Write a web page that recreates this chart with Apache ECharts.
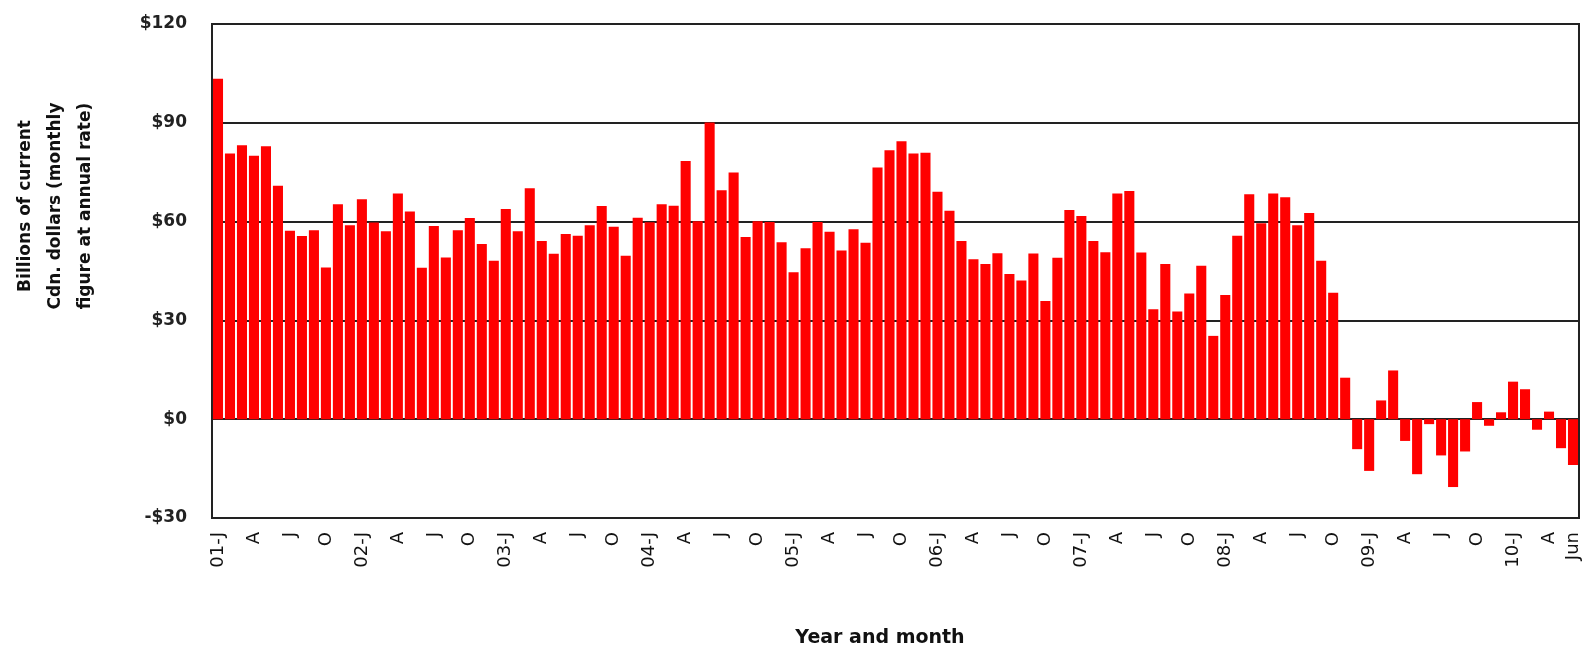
<!DOCTYPE html>
<html>
<head>
<meta charset="utf-8">
<script src="https://cdn.jsdelivr.net/npm/echarts@6/dist/echarts.min.js"></script>
<style>
  html, body { margin: 0; padding: 0; background: #fff; }
  #chart { width: 1582px; height: 651px; }
</style>
</head>
<body>
<div id="chart"></div>
<script>
// monthly values, Jan 2001 .. Jun 2010 (billions, annual rate)
const v2001 = [103.4, 80.7, 83.2, 80.0, 82.9, 70.9, 57.2, 55.6, 57.4, 46.1, 65.3, 58.9];
const v2002 = [66.8, 59.7, 57.1, 68.5, 63.1, 46.0, 58.7, 49.1, 57.4, 61.1, 53.2, 48.1];
const v2003 = [63.8, 57.1, 70.1, 54.1, 50.2, 56.2, 55.7, 58.9, 64.7, 58.4, 49.6, 61.2];
const v2004 = [59.8, 65.3, 64.8, 78.4, 60.1, 90.1, 69.5, 74.9, 55.3, 60.1, 59.9, 53.7];
const v2005 = [44.6, 51.9, 59.9, 56.9, 51.2, 57.7, 53.6, 76.4, 81.7, 84.4, 80.7, 80.9];
const v2006 = [69.1, 63.3, 54.1, 48.6, 47.1, 50.4, 44.1, 42.1, 50.3, 35.9, 49.0, 63.5];
const v2007 = [61.7, 54.1, 50.7, 68.5, 69.3, 50.6, 33.4, 47.1, 32.7, 38.2, 46.6, 25.3];
const v2008 = [37.7, 55.7, 68.3, 59.5, 68.5, 67.4, 58.9, 62.6, 48.1, 38.4, 12.6, -9.1];
const v2009 = [-15.7, 5.7, 14.8, -6.6, -16.7, -1.5, -11.0, -20.6, -9.8, 5.2, -2.0, 2.1];
const v2010 = [11.4, 9.1, -3.2, 2.3, -8.8, -13.9];

const years = ['01', '02', '03', '04', '05', '06', '07', '08', '09', '10'];
const monthLetters = ['J', 'F', 'M', 'A', 'M', 'J', 'J', 'A', 'S', 'O', 'N', 'D'];
const yTicks = [-30, 0, 30, 60, 90, 120];

const values = [].concat(v2001, v2002, v2003, v2004, v2005, v2006, v2007, v2008, v2009, v2010);

// category labels: "01-J" for January, month letter otherwise, last one "Jun"
let categories = [];
years.forEach(function (yy) {
    monthLetters.forEach(function (m, i) {
        if (categories.length < values.length) {
            categories.push(i === 0 ? yy + '-J' : m);
        }
    });
});
categories[categories.length - 1] = 'Jun';
const lastIdx = categories.length - 1;

const chart = echarts.init(document.getElementById('chart'));

let option = {
    animation: false,
    backgroundColor: '#fff',
    grid: {
        left: 212, right: 3, top: 24, bottom: 133,
        show: true, borderColor: '#222', borderWidth: 2, backgroundColor: 'transparent'
    },
    xAxis: {
        type: 'category',
        data: categories,
        axisLine: { show: false },
        axisTick: { show: false },
        axisLabel: {
            rotate: 90,
            margin: 14,
            fontFamily: 'DejaVu Sans',
            fontSize: 18,
            color: '#111',
            interval: function (i) { return i % 3 === 0 || i === lastIdx; }
        }
    },
    yAxis: {
        type: 'value',
        min: yTicks[0],
        max: yTicks[yTicks.length - 1],
        interval: 30,
        axisLine: { show: false },
        axisTick: { show: false },
        splitLine: { lineStyle: { color: '#222', width: 2 } },
        axisLabel: {
            margin: 25,
            fontFamily: 'DejaVu Sans',
            fontWeight: 'bold',
            fontSize: 17,
            color: '#222',
            formatter: function (v) { return v < 0 ? '-$' + Math.abs(v) : '$' + v; }
        }
    },
    series: [{
        type: 'bar',
        data: values,
        barCategoryGap: '16%',
        itemStyle: { color: '#ff0000' }
    }],
    graphic: [
        {
            type: 'text',
            x: 56, y: 206,
            rotation: Math.PI / 2,
            style: {
                text: 'Billions of current\nCdn. dollars (monthly\nfigure at annual rate)',
                font: 'bold 17px "DejaVu Sans"',
                fill: '#111',
                align: 'center',
                verticalAlign: 'middle',
                lineHeight: 30
            }
        },
        {
            type: 'text',
            x: 880, y: 638,
            style: {
                text: 'Year and month',
                font: 'bold 19px "DejaVu Sans"',
                fill: '#111',
                align: 'center',
                verticalAlign: 'middle'
            }
        }
    ]
};

chart.setOption(option);
</script>
</body>
</html>
